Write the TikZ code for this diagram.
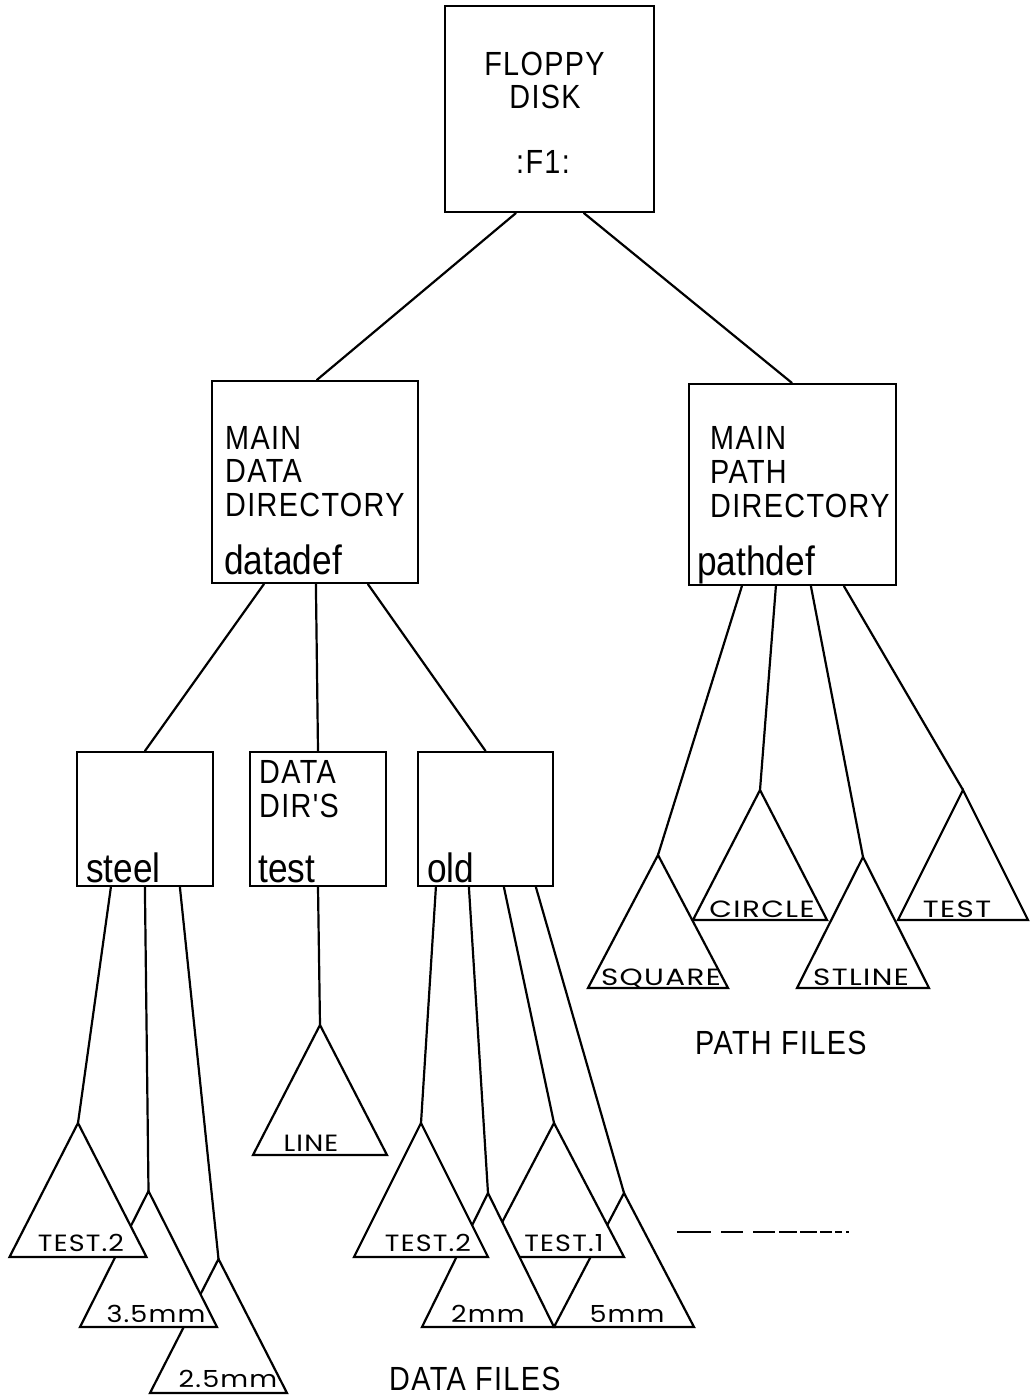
\documentclass[tikz,border=0pt]{standalone}
\usepackage{fontspec}
\usetikzlibrary{calc}
\newfontfamily\dinfont[FakeStretch=0.86,LetterSpace=4]{Liberation Sans}
\newfontfamily\dinlow[FakeStretch=0.86]{Liberation Sans}
\newfontfamily\geoA[FakeStretch=1.25,LetterSpace=6]{Poppins}
\newfontfamily\geoB[FakeStretch=1.15,LetterSpace=5]{Poppins}
% #1 name, #2 apex x, #3 apex y, #4 half width, #5 height
\newcommand\filetri[5]{%
  \coordinate (#1) at (#2,#3);
  \draw[tri] (#1) -- ++(-#4,#5) -- ++({2*#4},0) -- cycle;
}
\begin{document}
\begin{tikzpicture}[x=1pt,y=-1pt,
  box/.style={draw, line width=2.2pt, rectangle, inner sep=0pt},
  con/.style={line width=2.2pt, line cap=round},
  tri/.style={draw, fill=white, line width=2.2pt, line join=miter},
  capt/.style={font=\dinfont\fontsize{33.5}{34}\selectfont, inner sep=0pt},
  lowt/.style={font=\dinlow\fontsize{41}{42}\selectfont, inner sep=0pt, anchor=base west},
  plab/.style={font=\geoA\fontsize{23.5}{24}\selectfont, inner sep=0pt, anchor=base},
  dlab/.style={font=\geoB\fontsize{23.5}{25}\selectfont, inner sep=0pt, anchor=base},
]
\useasboundingbox[fill=white] (0,0) rectangle (1029,1397);

% ---- boxes ----
\node[box, minimum width=209pt, minimum height=206pt] (disk) at (549.5,109) {};
\node[box, minimum width=206pt, minimum height=202pt] (mdd) at (315,482) {};
\node[box, minimum width=207pt, minimum height=201pt] (mpd) at (792.5,484.5) {};
\node[box, minimum width=136pt, minimum height=134pt] (steel) at (145,819) {};
\node[box, minimum width=136pt, minimum height=134pt] (testb) at (318,819) {};
\node[box, minimum width=135pt, minimum height=134pt] (old) at (485.5,819) {};

% ---- box texts ----
\node[capt, anchor=base] (disk-l1) at (544.5,76) {FLOPPY};
\node[capt, anchor=base] (disk-l2) at (545,108) {DISK};
\node[capt, anchor=base] (disk-l3) at (543,173) {:F1:};

\node[capt, anchor=base west] (mdd-l1) at (225,449) {MAIN};
\node[capt, anchor=base west] (mdd-l2) at (225,482) {DATA};
\node[capt, anchor=base west] (mdd-l3) at (225,516) {DIRECTORY};
\node[lowt] (mdd-l4) at (224,574) {datadef};

\node[capt, anchor=base west] (mpd-l1) at (710,449) {MAIN};
\node[capt, anchor=base west] (mpd-l2) at (710,483) {PATH};
\node[capt, anchor=base west] (mpd-l3) at (710,517) {DIRECTORY};
\node[lowt] (mpd-l4) at (697,575) {pathdef};

\node[lowt] (steel-l) at (86,882) {steel};
\node[capt, anchor=base west] (testb-l1) at (259,783) {DATA};
\node[capt, anchor=base west] (testb-l2) at (259,817) {DIR'S};
\node[lowt] (testb-l3) at (258,882) {test};
\node[lowt] (old-l) at (427,882) {old};

% ---- file triangles (apex coordinates) ----
% path files: back first
\filetri{circle}{760}{790}{67}{130}
\node[plab] (circle-l) at (762,917) {CIRCLE};
\filetri{ptest}{963}{790}{65}{130}
\node[plab] (ptest-l) at (957,917) {TEST};
\filetri{square}{658}{855}{70}{133}
\node[plab] (square-l) at (661,985) {SQUARE};
\filetri{stline}{863}{857}{66}{131}
\node[plab] (stline-l) at (861,985) {STLINE};

% data files under steel: back first
\filetri{s3}{218.5}{1259}{68.5}{134}
\node[dlab] (s3-l) at (228,1387) {2.5mm};
\filetri{s2}{148.5}{1191}{68.5}{136}
\node[dlab] (s2-l) at (156,1322) {3.5mm};
\filetri{s1}{78}{1123}{68.5}{134}
\node[dlab] (s1-l) at (81,1251) {TEST.2};

% under test
\filetri{ln}{320}{1025}{67}{130}
\node[dlab] (ln-l) at (311,1151) {LINE};

% under old: back first
\filetri{o4}{624}{1193}{70}{134}
\node[dlab] (o4-l) at (627,1322) {5mm};
\filetri{o3}{554}{1123}{70}{134}
\node[dlab] (o3-l) at (564,1251) {TEST.1};
\filetri{o2}{488}{1193}{66}{134}
\node[dlab] (o2-l) at (488,1322) {2mm};
\filetri{o1}{421}{1123}{67}{134}
\node[dlab] (o1-l) at (428,1251) {TEST.2};

% ---- connectors ----
\draw[con] ($(disk.south west)+(72,0)$) -- ($(mdd.north west)+(106,0)$);
\draw[con] ($(disk.south west)+(140,0)$) -- ($(mpd.north west)+(104,0)$);

\draw[con] ($(mdd.south west)+(53,0)$) -- (steel.north);
\draw[con] ($(mdd.south west)+(105,0)$) -- (testb.north);
\draw[con] ($(mdd.south west)+(157,0)$) -- (old.north);

\draw[con] ($(mpd.south west)+(54,0)$) -- (square);
\draw[con] ($(mpd.south west)+(88,0)$) -- (circle);
\draw[con] ($(mpd.south west)+(123,0)$) -- (stline);
\draw[con] ($(mpd.south west)+(156,0)$) -- (ptest);

\draw[con] ($(steel.south west)+(35,0)$) -- (s1);
\draw[con] ($(steel.south west)+(69,0)$) -- (s2);
\draw[con] ($(steel.south west)+(104,0)$) -- (s3);

\draw[con] (testb.south) -- (ln);

\draw[con] ($(old.south west)+(19,0)$) -- (o1);
\draw[con] ($(old.south west)+(52,0)$) -- (o2);
\draw[con] ($(old.south west)+(87,0)$) -- (o3);
\draw[con] ($(old.south west)+(119,0)$) -- (o4);

% ---- captions ----
\node[capt, anchor=base west] (pathfiles) at (695,1054) {PATH FILES};
\node[capt, anchor=base west] (datafiles) at (389,1390) {DATA FILES};

% ---- trailing dashes ----
\draw[line width=2.6pt] (677,1232) -- (711,1232) (721,1232) -- (743,1232)
  (753,1232) -- (775,1232) (779,1232) -- (797,1232) (800,1232) -- (817,1232)
  (820,1232) -- (832,1232) (835,1232) -- (842,1232) (846,1232) -- (849,1232);
\end{tikzpicture}
\end{document}
